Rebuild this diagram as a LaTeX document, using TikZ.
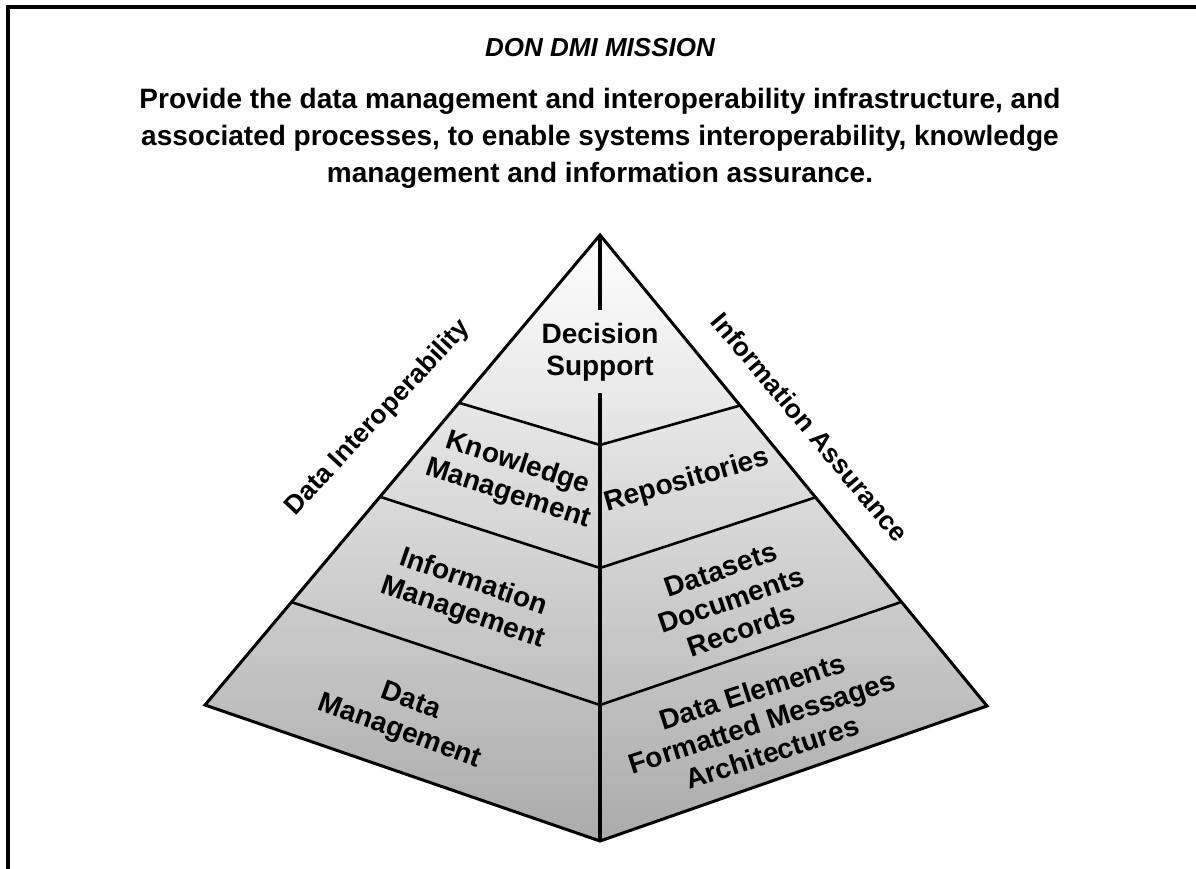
\documentclass[tikz,border=0pt]{standalone}
\usepackage{fontspec}
\setmainfont{Liberation Sans}
\usetikzlibrary{calc}
\begin{document}
\begin{tikzpicture}[x=1pt,y=-1pt,
  lbl/.style={font=\bfseries\fontsize{28}{32}\selectfont, align=center, inner sep=0pt},
  sidelbl/.style={font=\bfseries\fontsize{26.5}{30}\selectfont, align=center, inner sep=0pt},
  headline/.style={font=\bfseries\fontsize{28}{32}\selectfont, anchor=base, inner sep=0pt},
  edge/.style={line width=3pt, line join=miter},
  layer/.style={line width=2.6pt},
  mid/.style={line width=4pt}]
\useasboundingbox (0,0) rectangle (1196,869);
\draw[line width=4pt] (8,869) -- (8,7) -- (1196,7);

% title
\node[headline, font=\bfseries\itshape\fontsize{26}{30}\selectfont] (title) at (600,57) {DON DMI MISSION};
\node[headline] (m1) at (600,109) {Provide the data management and interoperability infrastructure, and};
\node[headline] (m2) at (600,146) {associated processes, to enable systems interoperability, knowledge};
\node[headline] (m3) at (600,183) {management and information assurance.};

% pyramid geometry
\coordinate (A) at (600,235);
\coordinate (L) at (205,705);
\coordinate (R) at (987,706);
\coordinate (B) at (600,841);
\coordinate (C1) at (600,445);
\coordinate (C2) at (600,568);
\coordinate (C3) at (600,705);
\coordinate (L1) at ($(A)!0.357!(L)$);
\coordinate (L2) at ($(A)!0.557!(L)$);
\coordinate (L3) at ($(A)!0.781!(L)$);
\coordinate (R1) at ($(A)!0.362!(R)$);
\coordinate (R2) at ($(A)!0.557!(R)$);
\coordinate (R3) at ($(A)!0.779!(R)$);
\coordinate (G1) at (600,310);
\coordinate (G2) at (600,393);

\shade[top color=white, bottom color=black!33] (A) -- (L) -- (B) -- (R) -- cycle;
\draw[layer] (L1) -- (C1) -- (R1);
\draw[layer] (L2) -- (C2) -- (R2);
\draw[layer] (L3) -- (C3) -- (R3);
\draw[mid] (A) -- (G1);
\draw[mid] (G2) -- (B);
\draw[edge] (A) -- (L) -- (B) -- (R) -- cycle;

% labels
\node[lbl] (ds) at (600,352) {Decision\\Support};
\node[lbl, rotate=-18] (km) at (513,479) {Knowledge\\Management};
\node[lbl, rotate=-19] (im) at (468,598) {Information\\Management};
\node[lbl, rotate=-20] (dm) at (405,717) {Data\\Management};
\node[lbl, rotate=16] (rep) at (687,481) {Repositories};
\node[lbl, rotate=19] (ddr) at (731,600) {Datasets\\Documents\\Records};
\node[lbl, rotate=18] (dfa) at (762,722) {Data Elements\\Formatted Messages\\Architectures};
\node[sidelbl, rotate=47] (di) at (378,418) {Data Interoperability};
\node[sidelbl, rotate=-50] (ia) at (810,427) {Information Assurance};
\end{tikzpicture}
\end{document}
